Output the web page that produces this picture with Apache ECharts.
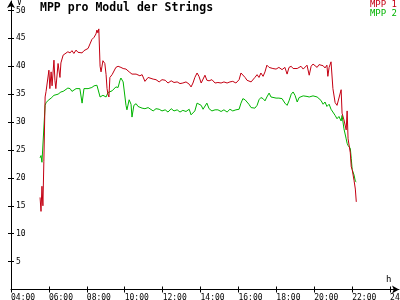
<!DOCTYPE html>
<html><head><meta charset="utf-8">
<script src="https://cdn.jsdelivr.net/npm/echarts@6/dist/echarts.min.js"></script>
<style>html,body{margin:0;padding:0;background:#fff}#c{width:400px;height:300px}</style>
</head><body><div id="c"></div>
<script>
const titleText = 'MPP pro Modul der Strings';
const seriesNames = ['MPP 1', 'MPP 2'];
const xTickHours = [4, 6, 8, 10, 12, 14, 16, 18, 20, 22, 24];
const yTicks = [5, 10, 15, 20, 25, 30, 35, 40, 45, 50];
const times = ['05:32','05:35','05:38','05:41','05:44','05:48','05:51','05:57','06:00','06:03','06:07','06:10','06:16','06:19','06:22','06:29','06:35','06:38','06:45','06:51','07:00','07:07','07:13','07:19','07:26','07:32','07:38','07:45','07:51','07:57','08:04','08:10','08:16','08:23','08:29','08:32','08:35','08:38','08:42','08:45','08:51','08:57','09:01','09:04','09:07','09:10','09:13','09:20','09:26','09:32','09:39','09:45','09:48','09:55','10:01','10:04','10:07','10:14','10:20','10:23','10:29','10:36','10:42','10:48','10:55','11:04','11:14','11:20','11:30','11:39','11:49','11:58','12:08','12:17','12:27','12:36','12:46','12:55','13:04','13:14','13:24','13:30','13:36','13:42','13:49','13:55','14:02','14:08','14:14','14:20','14:27','14:36','14:46','14:55','15:05','15:14','15:24','15:33','15:42','15:52','16:02','16:08','16:14','16:21','16:27','16:33','16:40','16:46','16:52','16:59','17:05','17:11','17:18','17:24','17:30','17:37','17:43','17:49','17:59','18:08','18:18','18:27','18:34','18:40','18:47','18:53','18:59','19:06','19:12','19:18','19:25','19:31','19:37','19:44','19:50','19:56','20:02','20:09','20:15','20:21','20:28','20:34','20:40','20:43','20:47','20:53','20:59','21:06','21:12','21:18','21:25','21:28','21:34','21:41','21:44','21:47','21:54','21:57','22:00','22:06','22:10','22:13'];
const mpp1 = [16.5,14.0,18.5,15.0,22.9,34.5,35.5,35.8,39.3,36.0,
39.0,36.5,41.1,37.5,36.0,40.5,38.0,40.6,42.0,42.3,
42.6,42.4,42.8,42.3,42.9,42.5,42.7,42.4,42.8,42.5,
43.2,44.0,44.8,45.2,45.8,46.5,46.0,46.7,40.0,39.0,
41.0,40.5,38.5,36.0,35.0,34.5,38.0,38.5,38.3,39.8,
40.0,39.9,39.8,39.6,39.3,39.5,39.2,39.0,38.8,38.6,
38.9,38.6,38.4,38.3,38.5,37.3,38.0,37.8,37.7,37.6,
37.2,37.6,37.5,37.0,37.4,37.1,37.2,36.9,37.0,37.2,
36.8,36.3,37.0,38.0,38.8,38.2,37.0,37.3,38.4,37.5,
37.4,37.6,37.0,37.1,37.0,37.2,37.0,37.2,37.3,37.0,
37.6,38.8,38.5,38.0,37.5,37.8,37.2,37.5,38.0,38.5,
38.0,38.8,38.2,39.0,40.2,39.8,40.0,39.6,39.5,39.8,
39.4,39.8,38.6,39.8,40.0,39.6,39.3,39.6,39.8,40.0,
39.5,39.8,40.2,38.4,40.0,40.4,40.2,39.8,40.3,40.0,
40.1,39.7,40.2,38.2,39.8,40.8,36.0,33.5,33.0,32.8,
35.8,31.6,30.4,28.6,32.0,27.0,24.5,22.0,21.5,19.5,
18.0,15.7];
const mpp2 = [23.6,24.0,22.8,22.8,22.9,33.0,33.5,33.6,34.0,34.0,
34.3,34.5,34.8,34.6,35.0,35.0,35.2,35.4,35.5,35.8,
36.1,36.0,35.5,35.4,36.0,35.8,36.0,33.4,36.0,35.8,
36.0,36.3,36.2,36.5,36.6,36.6,36.5,36.4,34.5,34.3,
34.8,34.5,34.5,34.8,35.3,35.5,35.5,35.6,35.8,36.3,
36.2,37.5,37.9,37.2,37.4,33.0,32.2,34.0,33.2,30.9,
33.0,33.3,32.8,33.0,32.5,32.4,32.6,32.3,32.0,32.4,
32.3,32.0,32.2,31.8,32.4,32.0,32.2,31.8,32.1,31.9,
32.3,31.3,31.4,32.0,33.4,33.4,33.0,32.3,32.3,33.4,
32.4,32.0,32.2,32.2,31.9,32.2,31.8,32.3,32.0,32.2,
32.3,33.4,34.2,34.0,33.8,33.2,32.6,32.8,32.5,33.0,
34.0,34.4,34.2,33.8,34.5,35.2,34.5,34.3,34.3,34.3,
34.2,33.4,33.0,33.8,35.0,35.4,34.8,33.6,34.4,34.7,
34.7,34.5,34.6,34.5,34.8,34.7,34.9,34.5,34.4,33.9,
33.2,33.6,32.8,33.0,33.2,32.3,32.6,31.2,30.6,31.0,
30.2,31.2,28.8,27.0,26.2,25.8,25.3,23.5,21.5,20.5,
19.4,19.3];

const toHour = t => { const p = t.split(':'); return +p[0] + (+p[1]) / 60; };
const pairs = vals => times.map((t, i) => [toHour(t), vals[i]]);
const RED = '#c40012', GREEN = '#00b400';
const mono = 'DejaVu Sans Mono';
const pad2 = n => (n < 10 ? '0' : '') + n;

const chart = echarts.init(document.getElementById('c'), null, {renderer: 'canvas'});
const xBase = {type: 'value', min: 4, max: 24.47, gridIndex: 0, position: 'bottom', splitLine: {show: false}};
const yBase = {type: 'value', min: 0, max: 51.7, gridIndex: 0, position: 'left', splitLine: {show: false}};
chart.setOption({
  animation: false,
  backgroundColor: '#fff',
  title: {text: titleText, left: 40, top: 2, padding: 0, textStyle: {fontFamily: mono, fontWeight: 'bold', fontSize: 11.5, color: '#000'}},
  legend: {
    orient: 'vertical', right: 3, top: 0, itemWidth: 0, itemHeight: 0, itemGap: 0, icon: 'none', padding: 0,
    textStyle: {fontFamily: mono, fontSize: 9, padding: [0, 0, 0, 0], lineHeight: 8},
    data: [{name: seriesNames[0], textStyle: {color: RED}}, {name: seriesNames[1], textStyle: {color: GREEN}}]
  },
  grid: {left: 11, right: 1, top: 1, bottom: 10.5, containLabel: false, outerBoundsMode: 'none'},
  xAxis: [
    Object.assign({}, xBase, {
      name: 'h', nameLocation: 'end', nameGap: -13,
      nameTextStyle: {fontFamily: mono, fontSize: 9, color: '#000', verticalAlign: 'bottom', padding: [0, 0, 5, 0]},
      axisLine: {show: true, lineStyle: {color: '#000', width: 1}, symbol: ['none', 'arrow'], symbolSize: [6, 7]},
      axisTick: {show: true, inside: false, length: 3, lineStyle: {color: '#000'}, customValues: xTickHours},
      axisLabel: {show: true, margin: 4, align: 'left', fontFamily: mono, fontSize: 8, color: '#000', customValues: xTickHours,
        hideOverlap: false, formatter: v => pad2(Math.round(v)) + ':00'}
    }),
    Object.assign({}, xBase, {
      axisLine: {show: false}, axisLabel: {show: false},
      axisTick: {show: true, inside: true, length: 3, lineStyle: {color: '#000'}, customValues: xTickHours}
    })
  ],
  yAxis: [
    Object.assign({}, yBase, {
      name: 'V', nameLocation: 'end', nameGap: -8,
      nameTextStyle: {fontFamily: mono, fontSize: 8, color: '#000', align: 'left', padding: [0, 0, 0, 6]},
      axisLine: {show: true, lineStyle: {color: '#000', width: 1}, symbol: ['none', 'arrow'], symbolSize: [6, 7]},
      axisTick: {show: true, inside: false, length: 3, lineStyle: {color: '#000'}, customValues: yTicks},
      axisLabel: {show: true, inside: true, margin: 5, fontFamily: mono, fontSize: 8, color: '#000', customValues: yTicks}
    }),
    Object.assign({}, yBase, {
      axisLine: {show: false}, axisLabel: {show: false},
      axisTick: {show: true, inside: true, length: 3, lineStyle: {color: '#000'}, customValues: yTicks}
    })
  ],
  series: [
    {name: seriesNames[1], type: 'line', xAxisIndex: 0, yAxisIndex: 0, data: pairs(mpp2), showSymbol: false,
      lineStyle: {color: GREEN, width: 1}, itemStyle: {color: GREEN}, z: 2},
    {name: seriesNames[0], type: 'line', xAxisIndex: 0, yAxisIndex: 0, data: pairs(mpp1), showSymbol: false,
      lineStyle: {color: RED, width: 1}, itemStyle: {color: RED}, z: 3}
  ]
});
</script></body></html>
